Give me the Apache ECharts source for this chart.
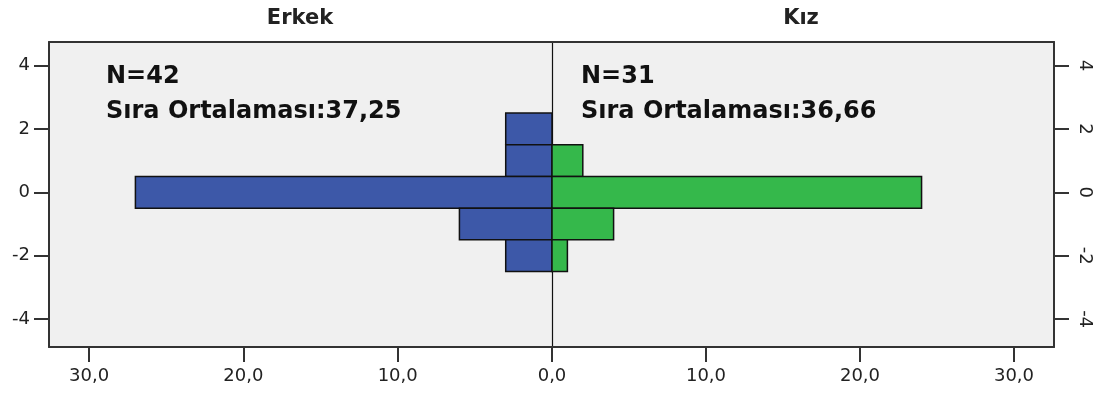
<!DOCTYPE html>
<html>
<head>
<meta charset="utf-8">
<script src="https://cdn.jsdelivr.net/npm/echarts@6/dist/echarts.min.js"></script>
<style>
html,body{margin:0;padding:0;background:#fff;}
#chart{width:1105px;height:398px;}
</style>
</head>
<body>
<div id="chart"></div>
<script>
// ---- data ----
const binCenters = [2, 1, 0, -1, -2];
const maleCounts = [3, 3, 27, 6, 3];
const femaleCounts = [0, 2, 24, 4, 1];
const leftXTicks = [0, 10, 20, 30];
const rightXTicks = [0, 10, 20, 30];
const rightXLabels = [10, 20, 30];
const yTicks = [-4, -2, 0, 2, 4];
const groupTitles = ['Erkek', 'Kız'];
const groupN = [42, 31];
const groupRankMean = ['37,25', '36,66'];

const X_MAX = 32.6, Y_MIN = -4.88, Y_MAX = 4.74;
const FONT = 'DejaVu Sans';

function fmtX(v){ return v.toFixed(1).replace('.', ','); }

function makeRender(color){
  return function(params, api){
    const bin = api.value(0), cnt = api.value(1);
    if (!cnt) return null;
    const p1 = api.coord([0, bin + 0.5]);
    const p2 = api.coord([cnt, bin - 0.5]);
    const x = Math.min(p1[0], p2[0]), y = Math.min(p1[1], p2[1]);
    return {
      type: 'rect',
      shape: {x: x, y: y, width: Math.abs(p2[0]-p1[0]), height: Math.abs(p2[1]-p1[1])},
      style: {fill: color, stroke: '#111', lineWidth: 1.5}
    };
  };
}

const chart = echarts.init(document.getElementById('chart'), null, {renderer:'canvas'});
const axisLbl = {color:'#222', fontFamily: FONT, fontSize: 18};
const option = {
  animation: false,
  title: [
    {text: groupTitles[0], left: 295, top: 3, textAlign: 'center',
     textStyle:{fontFamily: FONT, fontSize: 21, fontWeight:'bold', color:'#222'}},
    {text: groupTitles[1], left: 796, top: 3, textAlign: 'center',
     textStyle:{fontFamily: FONT, fontSize: 21, fontWeight:'bold', color:'#222'}},
    {text: 'N=' + groupN[0] + '\nSıra Ortalaması:' + groupRankMean[0], left: 101, top: 54,
     textStyle:{fontFamily: FONT, fontSize: 24, fontWeight:'bold', color:'#111', lineHeight: 35}},
    {text: 'N=' + groupN[1] + '\nSıra Ortalaması:' + groupRankMean[1], left: 576, top: 54,
     textStyle:{fontFamily: FONT, fontSize: 24, fontWeight:'bold', color:'#111', lineHeight: 35}}
  ],
  grid: [
    {left: 49, right: 553, top: 42, bottom: 51, show: true, backgroundColor: '#f0f0f0', borderWidth: 0},
    {left: 552, right: 51, top: 42, bottom: 51, show: true, backgroundColor: '#f0f0f0', borderWidth: 0}
  ],
  xAxis: [
    {type:'value', gridIndex:0, min:0, max:X_MAX, inverse:true, position:'bottom',
     axisLine:{show:true, onZero:false, lineStyle:{color:'#333', width:2}},
     axisTick:{show:true, length:15, customValues: leftXTicks, lineStyle:{color:'#333', width:2}},
     axisLabel:Object.assign({customValues: leftXTicks, formatter: fmtX, margin: 20}, axisLbl),
     splitLine:{show:false}},
    {type:'value', gridIndex:0, min:0, max:X_MAX, inverse:true, position:'top',
     axisLine:{show:true, onZero:false, lineStyle:{color:'#333', width:2}},
     axisTick:{show:false}, axisLabel:{show:false}, splitLine:{show:false}},
    {type:'value', gridIndex:1, min:0, max:X_MAX, position:'bottom',
     axisLine:{show:true, onZero:false, lineStyle:{color:'#333', width:2}},
     axisTick:{show:true, length:15, customValues: rightXTicks, lineStyle:{color:'#333', width:2}},
     axisLabel:Object.assign({customValues: rightXLabels, formatter: fmtX, margin: 20}, axisLbl),
     splitLine:{show:false}},
    {type:'value', gridIndex:1, min:0, max:X_MAX, position:'top',
     axisLine:{show:true, onZero:false, lineStyle:{color:'#333', width:2}},
     axisTick:{show:false}, axisLabel:{show:false}, splitLine:{show:false}}
  ],
  yAxis: [
    {type:'value', gridIndex:0, min:Y_MIN, max:Y_MAX, position:'left',
     axisLine:{show:true, onZero:false, lineStyle:{color:'#333', width:2}},
     axisTick:{show:true, length:15, customValues: yTicks, lineStyle:{color:'#333', width:2}},
     axisLabel:Object.assign({customValues: yTicks, margin: 19}, axisLbl),
     splitLine:{show:false}},
    {type:'value', gridIndex:1, min:Y_MIN, max:Y_MAX, position:'right',
     axisLine:{show:true, onZero:false, lineStyle:{color:'#333', width:2}},
     axisTick:{show:true, length:15, customValues: yTicks, lineStyle:{color:'#333', width:2}},
     axisLabel:Object.assign({customValues: yTicks, margin: 22, rotate: -90}, axisLbl),
     splitLine:{show:false}},
    {type:'value', gridIndex:1, min:Y_MIN, max:Y_MAX, position:'left',
     axisLine:{show:true, onZero:false, lineStyle:{color:'#111', width:1.2}},
     axisTick:{show:false}, axisLabel:{show:false}, splitLine:{show:false}}
  ],
  series: [
    {type:'custom', name: groupTitles[0], xAxisIndex:0, yAxisIndex:0, z: 1,
     renderItem: makeRender('#3d58a8'),
     encode:{x:1, y:0},
     data: binCenters.map((b,i)=>[b, maleCounts[i]])},
    {type:'custom', name: groupTitles[1], xAxisIndex:2, yAxisIndex:1, z: 1,
     renderItem: makeRender('#35b84b'),
     encode:{x:1, y:0},
     data: binCenters.map((b,i)=>[b, femaleCounts[i]])}
  ]
};
chart.setOption(option);
</script>
</body>
</html>
